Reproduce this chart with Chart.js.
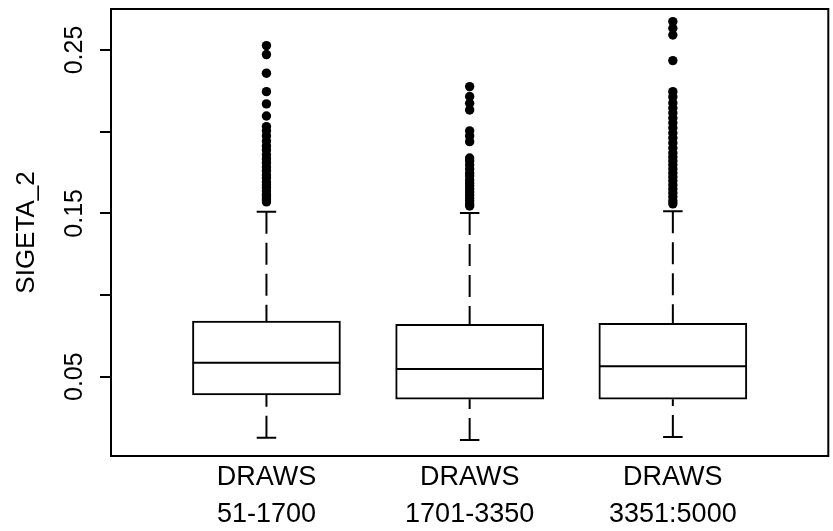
<!DOCTYPE html>
<html>
<head>
<meta charset="utf-8">
<script src="https://cdn.jsdelivr.net/npm/chart.js@4/dist/chart.umd.min.js"></script>
<style>
  html, body { margin: 0; padding: 0; background: #ffffff; }
  #c { display: block; }
</style>
</head>
<body>
<canvas id="c" width="833" height="531"></canvas>
<script>
// ---- data ----
const categories = [["DRAWS", "51-1700"], ["DRAWS", "1701-3350"], ["DRAWS", "3351:5000"]];
const groupPos = [1, 2, 3];
const lowerWhisker = [0.0126, 0.0112, 0.0131];
const q1 = [0.0388, 0.0362, 0.0362];
const median = [0.0586, 0.0547, 0.0564];
const q3 = [0.0841, 0.0821, 0.0827];
const upperWhisker = [0.1509, 0.1502, 0.1513];

const outliers1 = [0.2527, 0.2472, 0.2358, 0.2245, 0.2170, 0.2096, 0.2031, 0.2005, 0.1974, 0.1943,
  0.1913, 0.1888, 0.1858, 0.1833, 0.1809, 0.1784, 0.1760, 0.1735, 0.1717, 0.1692, 0.1674, 0.1656,
  0.1637, 0.1619, 0.1607, 0.1594, 0.1582, 0.1570];
const outliers2 = [0.2276, 0.2215, 0.2174, 0.2133, 0.2005, 0.1974, 0.1939, 0.1839, 0.1821, 0.1797,
  0.1772, 0.1747, 0.1729, 0.1704, 0.1686, 0.1668, 0.1649, 0.1631, 0.1613, 0.1594, 0.1576, 0.1558, 0.1545];
const outliers3 = [0.2674, 0.2633, 0.2592, 0.2435, 0.2245, 0.2213, 0.2176, 0.2145, 0.2115, 0.2084,
  0.2054, 0.2023, 0.1992, 0.1962, 0.1931, 0.1900, 0.1870, 0.1845, 0.1821, 0.1797, 0.1772, 0.1747,
  0.1723, 0.1699, 0.1674, 0.1649, 0.1625, 0.1601, 0.1576, 0.1558];
const outliers = [outliers1, outliers2, outliers3];

const yTicks = [0.05, 0.10, 0.15, 0.20, 0.25];
const yTickLabels = ["0.05", "", "0.15", "", "0.25"];
const yTitle = "SIGETA_2";

// ---- presentation ----
const FONT = '"Liberation Sans", Arial, Helvetica, sans-serif';
const BOX_HALF = 0.363;   // in x units
const CAP_HALF = 0.048;   // in x units
const DASH = [22, 9];

Chart.defaults.font.family = FONT;
Chart.defaults.color = '#000000';

const datasets = [];

// boxes (floating bars)
datasets.push({
  type: 'bar',
  data: groupPos.map((x, i) => ({ x: x, y: [q1[i], q3[i]] })),
  backgroundColor: '#ffffff',
  borderColor: '#000000',
  borderWidth: 2,
  borderSkipped: false,
  barThickness: 148,
  order: 5
});

// medians, whiskers, caps as line datasets
const lineDs = (pts, dash) => ({
  type: 'line',
  data: pts,
  borderColor: '#000000',
  borderWidth: 2,
  borderDash: dash || [],
  pointRadius: 0,
  fill: false,
  tension: 0,
  order: 1
});
groupPos.forEach((x, i) => {
  datasets.push(lineDs([{ x: x - BOX_HALF, y: median[i] }, { x: x + BOX_HALF, y: median[i] }]));
  datasets.push(lineDs([{ x: x, y: upperWhisker[i] }, { x: x, y: q3[i] }], DASH));
  datasets.push(lineDs([{ x: x, y: lowerWhisker[i] }, { x: x, y: q1[i] }], DASH));
  datasets.push(lineDs([{ x: x - CAP_HALF, y: upperWhisker[i] }, { x: x + CAP_HALF, y: upperWhisker[i] }]));
  datasets.push(lineDs([{ x: x - CAP_HALF, y: lowerWhisker[i] }, { x: x + CAP_HALF, y: lowerWhisker[i] }]));
});

// outliers
datasets.push({
  type: 'scatter',
  data: outliers.flatMap((arr, i) => arr.map(v => ({ x: groupPos[i], y: v }))),
  backgroundColor: '#000000',
  borderWidth: 0,
  pointRadius: 4.7,
  order: 0
});

const framePlugin = {
  id: 'frameAndLabels',
  afterDraw(chart) {
    const { ctx, chartArea: a } = chart;
    const ys = chart.scales.y;
    ctx.save();
    ctx.strokeStyle = '#000000';
    ctx.lineWidth = 2;
    ctx.strokeRect(a.left, a.top, a.right - a.left, a.bottom - a.top);
    // rotated y tick labels (R style)
    ctx.fillStyle = '#000000';
    ctx.font = '25px ' + FONT;
    ctx.textAlign = 'center';
    ctx.textBaseline = 'alphabetic';
    yTicks.forEach((v, i) => {
      if (!yTickLabels[i]) return;
      const py = ys.getPixelForValue(v);
      ctx.save();
      ctx.translate(82, py);
      ctx.rotate(-Math.PI / 2);
      ctx.fillText(yTickLabels[i], 0, 0);
      ctx.restore();
    });
    ctx.restore();
  }
};

new Chart(document.getElementById('c'), {
  type: 'bar',
  data: { datasets },
  plugins: [framePlugin],
  options: {
    responsive: false,
    animation: false,
    devicePixelRatio: 1,
    layout: { padding: { top: 9, right: 2, left: 0, bottom: 0 } },
    plugins: { legend: { display: false }, tooltip: { enabled: false } },
    scales: {
      x: {
        type: 'linear',
        offset: false,
        min: 0.235,
        max: 3.765,
        afterBuildTicks: (s) => { s.ticks = groupPos.map(v => ({ value: v })); },
        afterFit: (s) => { s.height = 75; },
        grid: { display: false, drawTicks: false, offset: false },
        border: { display: false },
        ticks: {
          padding: 3,
          autoSkip: false,
          maxRotation: 0,
          minRotation: 0,
          font: { size: 27, lineHeight: 1.37 },
          color: '#000000',
          callback: (value, index) => categories[index]
        }
      },
      y: {
        type: 'linear',
        min: 0.00144,
        max: 0.2751,
        afterBuildTicks: (s) => { s.ticks = yTicks.map(v => ({ value: v })); },
        afterFit: (s) => { s.width = 111; },
        grid: { display: true, drawOnChartArea: false, drawTicks: true, tickLength: 11, color: '#000000', lineWidth: 2 },
        border: { display: false },
        ticks: { display: false },
        title: {
          display: true,
          text: yTitle,
          color: '#000000',
          font: { size: 26, lineHeight: 1.2 },
          padding: { top: 11.4, bottom: 0 }
        }
      }
    }
  }
});
</script>
</body>
</html>
